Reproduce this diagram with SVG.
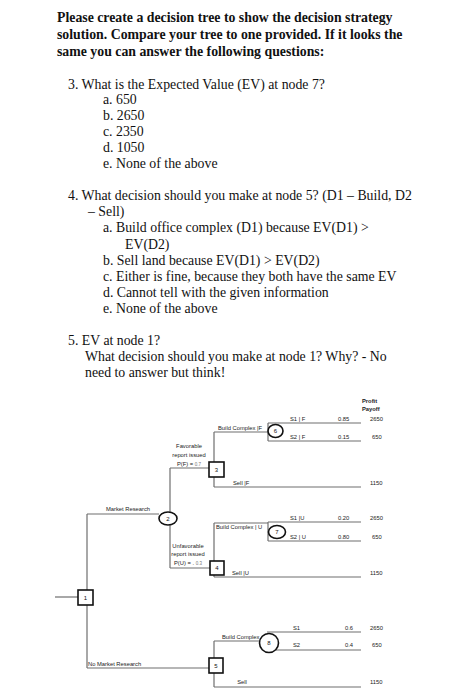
<svg xmlns="http://www.w3.org/2000/svg" width="469" height="700" viewBox="0 0 469 700">
<style>
.q{font-family:"Liberation Serif","Times New Roman",serif;font-size:13.8px;fill:#111}
.b{font-weight:bold}
.t{font-family:"Liberation Sans",Arial,sans-serif;font-size:5.8px;fill:#222}
.m{text-anchor:middle}
.n{font-family:"Liberation Sans",Arial,sans-serif;font-size:6px;fill:#111;text-anchor:middle}
.ln{stroke:#6e6e6e;stroke-width:1.2;fill:none}
.nd{fill:#fff;stroke:#111;stroke-width:1.6}
</style>
<rect width="469" height="700" fill="#fff"/>
<g id="questions">
<text class="q b" x="57" y="22">Please create a decision tree to show the decision strategy</text>
<text class="q b" x="57" y="39">solution.  Compare your tree to one provided.  If it looks the</text>
<text class="q b" x="57" y="56">same you can answer the following questions:</text>
<text class="q" x="68" y="89">3. What is the Expected Value (EV) at node 7?</text>
<text class="q" x="103" y="104">a. 650</text>
<text class="q" x="103" y="120">b. 2650</text>
<text class="q" x="103" y="136">c. 2350</text>
<text class="q" x="103" y="152">d. 1050</text>
<text class="q" x="103" y="168">e. None of the above</text>
<text class="q" x="68" y="200">4. What decision should you make at node 5? (D1 – Build, D2</text>
<text class="q" x="88" y="216">– Sell)</text>
<text class="q" x="103" y="232">a. Build office complex (D1) because EV(D1) &gt;</text>
<text class="q" x="125" y="249">EV(D2)</text>
<text class="q" x="103" y="265">b. Sell land because EV(D1) &gt; EV(D2)</text>
<text class="q" x="103" y="281">c. Either is fine, because they both have the same EV</text>
<text class="q" x="103" y="297">d. Cannot tell with the given information</text>
<text class="q" x="103" y="313">e. None of the above</text>
<text class="q" x="68" y="345">5. EV at node 1?</text>
<text class="q" x="85" y="361">What decision should you make at node 1? Why?  - No</text>
<text class="q" x="85" y="377">need to answer but think!</text>
</g>
<g id="connectors">
<path class="ln" d="M55,597H78"/>
<path class="ln" d="M87,514V668"/>
<path class="ln" d="M87,514H159"/>
<path class="ln" d="M87,668H209"/>
<path class="ln" d="M170,468V568"/>
<path class="ln" d="M170,468H209"/>
<path class="ln" d="M170,568H210"/>
<path class="ln" d="M214,432V487"/>
<path class="ln" d="M214,432H268"/>
<path class="ln" d="M214,487H361"/>
<path class="ln" d="M268,423V441"/>
<path class="ln" d="M268,423H361"/>
<path class="ln" d="M268,441H361"/>
<path class="ln" d="M214,523V577"/>
<path class="ln" d="M214,523H268"/>
<path class="ln" d="M214,577H361"/>
<path class="ln" d="M268,522V541"/>
<path class="ln" d="M268,522H361"/>
<path class="ln" d="M268,541H361"/>
<path class="ln" d="M214,641V687"/>
<path class="ln" d="M214,641H260"/>
<path class="ln" d="M214,687H361"/>
<path class="ln" d="M267,632H361"/>
<path class="ln" d="M276,650H361"/>
</g>
<g id="labels">
<text class="t b" x="362" y="403">Profit</text>
<text class="t b" x="362" y="411">Payoff</text>
<text class="t" x="218" y="430">Build Complex |F</text>
<text class="t" x="290" y="421">S1 | F</text>
<text class="t" x="338" y="421">0.85</text>
<text class="t" x="370" y="421">2650</text>
<text class="t" x="290" y="439">S2 | F</text>
<text class="t" x="338" y="439">0.15</text>
<text class="t" x="372" y="439">650</text>
<text class="t" x="233" y="485">Sell |F</text>
<text class="t" x="370" y="485">1150</text>
<text class="t m" x="189" y="448">Favorable</text>
<text class="t m" x="189" y="457">report issued</text>
<text class="t m" x="189" y="466">P(F) =  <tspan font-size="4.5" fill="#777">0.7</tspan></text>
<text class="t m" x="128" y="511">Market Research</text>
<text class="t" x="216" y="529">Build Complex | U</text>
<text class="t" x="290" y="520">S1 |U</text>
<text class="t" x="338" y="520">0.20</text>
<text class="t" x="370" y="520">2650</text>
<text class="t" x="290" y="539">S2 | U</text>
<text class="t" x="338" y="539">0.80</text>
<text class="t" x="372" y="539">650</text>
<text class="t m" x="188" y="548">Unfavorable</text>
<text class="t m" x="188" y="556">report issued</text>
<text class="t m" x="188" y="565">P(U) = . <tspan font-size="4.5" fill="#777">0.3</tspan></text>
<text class="t" x="232" y="575">Sell |U</text>
<text class="t" x="370" y="575">1150</text>
<text class="t" x="88" y="666">No Market Research</text>
<text class="t" x="222" y="639">Build Complex</text>
<text class="t" x="293" y="630">S1</text>
<text class="t" x="345" y="630">0.6</text>
<text class="t" x="370" y="630">2650</text>
<text class="t" x="293" y="647">S2</text>
<text class="t" x="345" y="647">0.4</text>
<text class="t" x="372" y="647">650</text>
<text class="t m" x="242" y="684">Sell</text>
<text class="t" x="370" y="684">1150</text>
</g>
<g id="node1"><rect class="nd" x="78" y="590" width="15" height="15"/><text class="n" x="85.5" y="599.5">1</text></g>
<g id="node2"><ellipse class="nd" cx="168" cy="518.5" rx="9" ry="6.5"/><text class="n" x="168" y="520.5">2</text></g>
<g id="node3"><rect class="nd" x="209" y="462" width="15" height="15"/><text class="n" x="216.5" y="471.5">3</text></g>
<g id="node4"><rect class="nd" x="210" y="561" width="14" height="14"/><text class="n" x="217" y="570">4</text></g>
<g id="node5"><rect class="nd" x="209" y="658" width="14" height="15"/><text class="n" x="216" y="667.5">5</text></g>
<g id="node6"><ellipse class="nd" cx="275.5" cy="431" rx="7.5" ry="6.5"/><text class="n" x="275.5" y="433">6</text></g>
<g id="node7"><ellipse class="nd" cx="277" cy="532" rx="8.5" ry="6.5"/><text class="n" x="277" y="534">7</text></g>
<g id="node8"><circle class="nd" cx="269" cy="643" r="9.5"/><text class="n" x="269" y="645">8</text></g>
</svg>
